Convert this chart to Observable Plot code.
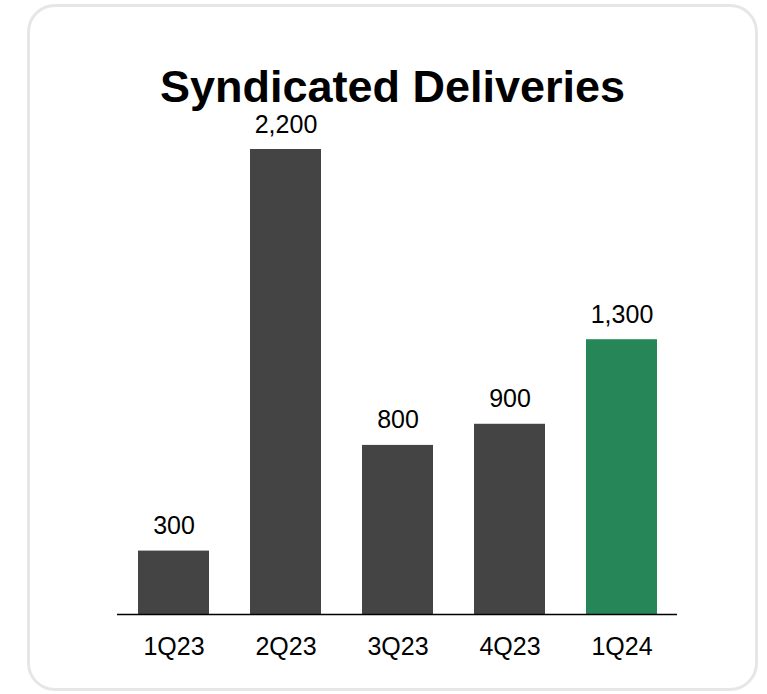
<!DOCTYPE html>
<html>
<head>
<meta charset="utf-8">
<script src="https://cdn.jsdelivr.net/npm/d3@7"></script>
<script src="https://cdn.jsdelivr.net/npm/@observablehq/plot@0.6"></script>
<style>
  html, body { margin: 0; padding: 0; background: #fff; }
  body { width: 767px; height: 694px; position: relative; overflow: hidden; font-family: "Liberation Sans", Arial, sans-serif; }
  #card { position: absolute; left: 27px; top: 4px; width: 731px; height: 687px; box-sizing: border-box; border: 3px solid #e6e6e6; border-radius: 28px; }
  #title { position: absolute; left: 27px; width: 731px; top: 64px; text-align: center; font-size: 45px; line-height: 45px; font-weight: bold; color: #000; }
  #chart { position: absolute; left: 0; top: 0; }
</style>
</head>
<body>
<div id="card"></div>
<div id="title">Syndicated Deliveries</div>
<div id="chart"></div>
<script>
const quarters = ["1Q23", "2Q23", "3Q23", "4Q23", "1Q24"];
const deliveries = [300, 2200, 800, 900, 1300];
const barColors = ["#444444", "#444444", "#444444", "#444444", "#268657"];

const data = quarters.map((q, i) => ({quarter: q, value: deliveries[i], color: barColors[i]}));

const chart = Plot.plot({
  width: 767,
  height: 694,
  marginLeft: 117,
  marginRight: 90,
  marginTop: 149,
  marginBottom: 80,
  style: {fontFamily: '"Liberation Sans", Arial, sans-serif', fontSize: "25px", color: "#000", background: "transparent", overflow: "visible"},
  x: {domain: quarters, paddingInner: 0.37, paddingOuter: 0.185, label: null},
  y: {domain: [0, 2200], axis: null},
  marks: [
    Plot.barY(data, {x: "quarter", y: "value", fill: "color"}),
    Plot.ruleY([0], {stroke: "#000", strokeWidth: 1.5}),
    Plot.text(data, {x: "quarter", y: "value", text: d => d3.format(",")(d.value), lineAnchor: "middle", dy: -25, fontSize: 25, fill: "#000"}),
    Plot.axisX({tickSize: 0, tickPadding: 23, fontSize: 25, label: null})
  ]
});
document.getElementById("chart").appendChild(chart);
</script>
</body>
</html>
